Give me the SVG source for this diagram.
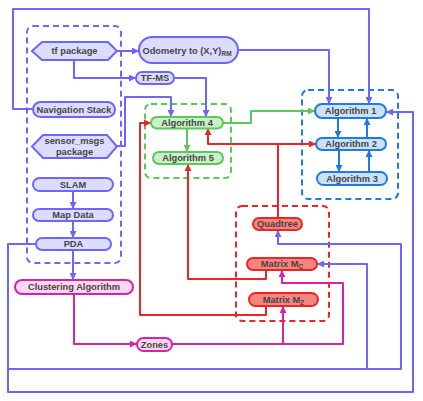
<svg xmlns="http://www.w3.org/2000/svg" width="423" height="401" viewBox="0 0 423 401">
<style>
text{font-family:"Liberation Sans",Arial,sans-serif;font-weight:bold;font-size:9.3px;fill:#454545;text-anchor:middle}
.sub{font-size:6.5px}
.c{fill:none;stroke-width:2;stroke-linejoin:round}
.pu{stroke:#6C66FF}.gr{stroke:#5CC85C}.bl{stroke:#1E7BE6}.rd{stroke:#EC2626}.mg{stroke:#D823A8}
.np{fill:#DCDCFF;stroke:#6C66FF;stroke-width:2}
.ng{fill:#C9F1C9;stroke:#5CC85C;stroke-width:2}
.nb{fill:#CCE2FB;stroke:#1E7BE6;stroke-width:2}
.nr{fill:#F6847F;stroke:#EC2626;stroke-width:2}
.nm{fill:#FDD7F0;stroke:#D823A8;stroke-width:2}
.dash{fill:none;stroke-width:2;stroke-dasharray:6,4}
</style>
<defs>
<marker id="apu" markerUnits="userSpaceOnUse" markerWidth="7" markerHeight="7" refX="7" refY="3.5" orient="auto"><path d="M0,0 L7,3.5 L0,7 z" fill="#6C66FF"/></marker>
<marker id="agr" markerUnits="userSpaceOnUse" markerWidth="7" markerHeight="7" refX="7" refY="3.5" orient="auto"><path d="M0,0 L7,3.5 L0,7 z" fill="#5CC85C"/></marker>
<marker id="abl" markerUnits="userSpaceOnUse" markerWidth="7" markerHeight="7" refX="7" refY="3.5" orient="auto"><path d="M0,0 L7,3.5 L0,7 z" fill="#1E7BE6"/></marker>
<marker id="ard" markerUnits="userSpaceOnUse" markerWidth="7" markerHeight="7" refX="7" refY="3.5" orient="auto"><path d="M0,0 L7,3.5 L0,7 z" fill="#EC2626"/></marker>
<marker id="amg" markerUnits="userSpaceOnUse" markerWidth="7" markerHeight="7" refX="7" refY="3.5" orient="auto"><path d="M0,0 L7,3.5 L0,7 z" fill="#D823A8"/></marker>
</defs>

<g id="containers">
<rect class="dash pu" x="27" y="26" width="94" height="237" rx="6"/>
<rect class="dash gr" x="145" y="104" width="86" height="74" rx="6"/>
<rect class="dash bl" x="302" y="90" width="96" height="109" rx="6"/>
<rect class="dash rd" x="236" y="206" width="93" height="115" rx="6"/>
</g>

<g id="connectors">
<path class="c pu" d="M117,51 H139" marker-end="url(#apu)"/>
<path class="c pu" d="M74,60 V78 H136" marker-end="url(#apu)"/>
<path class="c pu" d="M174,78 H206 V117" marker-end="url(#apu)"/>
<path class="c pu" d="M238,50 H329 V104" marker-end="url(#apu)"/>
<path class="c pu" d="M33,109 H13 V9 H369 V104" marker-end="url(#apu)"/>
<path class="c pu" d="M117,146 H125 V97 H171 V117" marker-end="url(#apu)"/>
<path class="c pu" d="M73,191 V209" marker-end="url(#apu)"/>
<path class="c pu" d="M73,221 V238" marker-end="url(#apu)"/>
<path class="c pu" d="M73,250 V280" marker-end="url(#apu)"/>
<path class="c pu" d="M36,244 H8 V392 H413 V112 H386" marker-end="url(#apu)"/>
<path class="c pu" d="M8,369 H401 V244 H278 V230" marker-end="url(#apu)"/>
<path class="c pu" d="M367,369 V264 H317" marker-end="url(#apu)"/>
<path class="c gr" d="M187,128 V152" marker-end="url(#agr)"/>
<path class="c gr" d="M223,123 H251 V111 H315" marker-end="url(#agr)"/>
<path class="c bl" d="M338,118 V138" marker-end="url(#abl)"/>
<path class="c bl" d="M367,138 V118" marker-end="url(#abl)"/>
<path class="c bl" d="M339,150 V172" marker-end="url(#abl)"/>
<path class="c bl" d="M369,172 V150" marker-end="url(#abl)"/>
<path class="c rd" d="M278,218 V144 H316" marker-end="url(#ard)"/>
<path class="c rd" d="M278,144 H208 V128" marker-end="url(#ard)"/>
<path class="c rd" d="M266,270 V279 H188 V164" marker-end="url(#ard)"/>
<path class="c rd" d="M266,306 V315 H140 V123 H151" marker-end="url(#ard)"/>
<path class="c mg" d="M74,294 V344 H137" marker-end="url(#amg)"/>
<path class="c mg" d="M172,344 H343 V283 H282 V270" marker-end="url(#amg)"/>
<path class="c mg" d="M283,344 V306" marker-end="url(#amg)"/>
</g>

<g id="tf_package"><polygon class="np" points="32,51 42,42 108,42 117,51 108,60 42,60"/><text x="74.5" y="54.3">tf package</text></g>
<g id="odometry"><rect class="np" x="139" y="37" width="99" height="26" rx="13"/><text x="187" y="53.5">Odometry to (X,Y)<tspan class="sub" dy="2">RM</tspan></text></g>
<g id="tf_ms"><rect class="np" x="136" y="72" width="38" height="12" rx="6"/><text x="155" y="81.3">TF-MS</text></g>
<g id="navigation_stack"><rect class="np" x="33" y="102" width="82" height="15" rx="7.5"/><text x="74" y="112.8">Navigation Stack</text></g>
<g id="sensor_msgs"><polygon class="np" points="32,146.5 43,135 107,135 117,146.5 107,158 43,158"/><text x="74.5" y="144">sensor_msgs</text><text x="74.5" y="155">package</text></g>
<g id="slam"><rect class="np" x="33" y="178" width="80" height="13" rx="6.5"/><text x="73" y="187.8">SLAM</text></g>
<g id="map_data"><rect class="np" x="33" y="209" width="80" height="12" rx="6"/><text x="73" y="218.3">Map Data</text></g>
<g id="pda"><rect class="np" x="36" y="238" width="75" height="12" rx="6"/><text x="73.5" y="247.3">PDA</text></g>
<g id="clustering"><rect class="nm" x="15" y="280" width="118" height="14" rx="7"/><text x="74" y="290.3">Clustering Algorithm</text></g>
<g id="zones"><rect class="nm" x="137" y="338" width="35" height="13" rx="6.5"/><text x="154.5" y="347.8">Zones</text></g>
<g id="algorithm4"><rect class="ng" x="151" y="117" width="72" height="11.5" rx="5.75"/><text x="187" y="126">Algorithm 4</text></g>
<g id="algorithm5"><rect class="ng" x="153" y="152" width="70" height="12" rx="6"/><text x="188" y="161.3">Algorithm 5</text></g>
<g id="algorithm1"><rect class="nb" x="315" y="104" width="71" height="14" rx="7"/><text x="350.5" y="114.3">Algorithm 1</text></g>
<g id="algorithm2"><rect class="nb" x="316" y="138" width="70" height="12" rx="6"/><text x="351" y="147.3">Algorithm 2</text></g>
<g id="algorithm3"><rect class="nb" x="317" y="172" width="70" height="13" rx="6.5"/><text x="352" y="181.8">Algorithm 3</text></g>
<g id="quadtree"><rect class="nr" x="253" y="218" width="49" height="12" rx="6"/><text x="277.5" y="227.3">Quadtree</text></g>
<g id="matrix_mc"><rect class="nr" x="247" y="258" width="70" height="12" rx="6"/><text x="282" y="267.3">Matrix M<tspan class="sub" dy="2">C</tspan></text></g>
<g id="matrix_mz"><rect class="nr" x="249" y="293" width="69" height="13" rx="6.5"/><text x="283.5" y="302.8">Matrix M<tspan class="sub" dy="2">Z</tspan></text></g>
</svg>
